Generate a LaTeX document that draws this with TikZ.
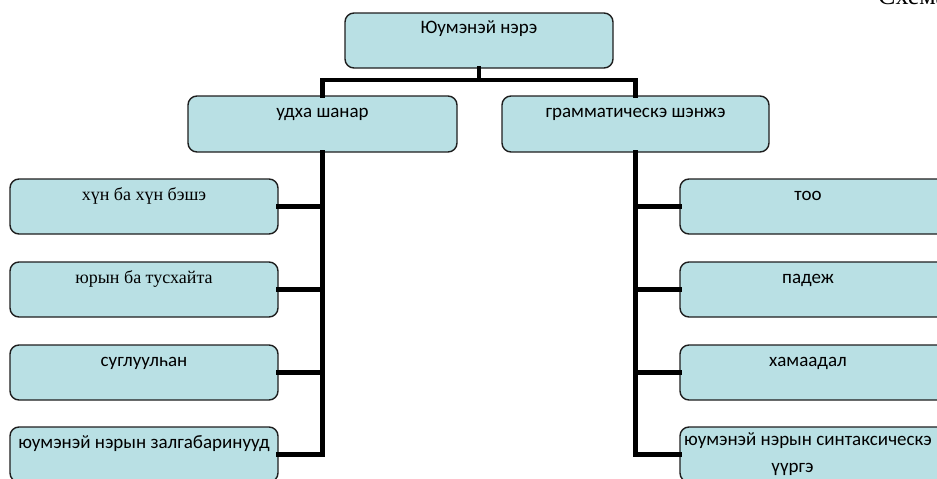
\documentclass[tikz,border=0pt]{standalone}
\usepackage{fontspec}
\newfontfamily\calfont{Carlito}
\newfontfamily\serfont{Liberation Serif}
\definecolor{boxfill}{RGB}{185,224,228}
\definecolor{boxline}{RGB}{30,30,30}
\tikzset{
  box/.style={draw=boxline, line width=1.4pt, fill=boxfill, rounded corners=9pt, inner sep=0pt},
  lbl/.style={anchor=base, inner sep=0pt, font=\calfont\fontsize{19}{27}\selectfont},
  slbl/.style={anchor=base, inner sep=0pt, font=\serfont\fontsize{18}{22}\selectfont},
  conn/.style={line width=4.5pt, black, line cap=rect, line join=miter}
}
\begin{document}
\begin{tikzpicture}[x=1pt,y=-1pt]
\useasboundingbox (0,0) rectangle (937,479);
\clip (0,0) rectangle (937,479);
% boxes
\node[box, minimum width=268pt, minimum height=55pt] (top) at (479,40.5) {};
\node[box, minimum width=269pt, minimum height=56pt] (l2a) at (322.5,124) {};
\node[box, minimum width=267pt, minimum height=56pt] (l2b) at (635.5,124) {};
\foreach \n/\y in {1/206.5,2/289.5,3/372.5,4/454.5}{
  \node[box, minimum width=268pt, minimum height=55pt] (la\n) at (144,\y) {};
  \node[box, minimum width=270pt, minimum height=55pt] (rb\n) at (815,\y) {};
}
% texts
\node[lbl] (ttop) at ([yshift=-21.5pt]top.north) {Юумэнэй нэрэ};
\node[lbl] (tl2a) at ([yshift=-22pt]l2a.north) {удха шанар};
\node[lbl] (tl2b) at ([yshift=-22pt]l2b.north) {грамматическэ шэнжэ};
\node[slbl] (tla1) at ([yshift=-22pt]la1.north) {хүн ба хүн бэшэ};
\node[slbl] (tla2) at ([yshift=-22pt]la2.north) {юрын ба тусхайта};
\node[lbl] (tla3) at ([yshift=-22pt]la3.north) {суглуулһан};
\node[lbl] (tla4) at ([yshift=-22pt]la4.north) {юумэнэй нэрын залгабаринууд};
\node[lbl] (trb1) at ([xshift=-7pt,yshift=-22pt]rb1.north) {тоо};
\node[lbl] (trb2) at ([xshift=-7pt,yshift=-22pt]rb2.north) {падеж};
\node[lbl] (trb3) at ([xshift=-7pt,yshift=-22pt]rb3.north) {хамаадал};
\node[lbl, align=center] (trb4) at ([xshift=-7pt,yshift=-46.5pt]rb4.north) {юумэнэй нэрын синтаксическэ\\үүргэ\hspace*{31pt}};
\node[anchor=base west, inner sep=0pt, font=\serfont\fontsize{26}{28}\selectfont] (schema) at (878,5) {Схема};
% connectors
\coordinate (bar) at (479,80);
\draw[conn] (top.south) -- (top.south |- bar);
\draw[conn] (l2a.north) -- (l2a.north |- bar) -- (l2b.north |- bar) -- (l2b.north);
\draw[conn] (l2a.south) -- (l2a.south |- la4.east) -- (la4.east);
\draw[conn] (l2b.south) -- (l2b.south |- rb4.west) -- (rb4.west);
\foreach \n in {1,2,3}{
  \draw[conn] (la\n.east) -- (la\n.east -| l2a.south);
  \draw[conn] (rb\n.west) -- (rb\n.west -| l2b.south);
}
\end{tikzpicture}
\end{document}
